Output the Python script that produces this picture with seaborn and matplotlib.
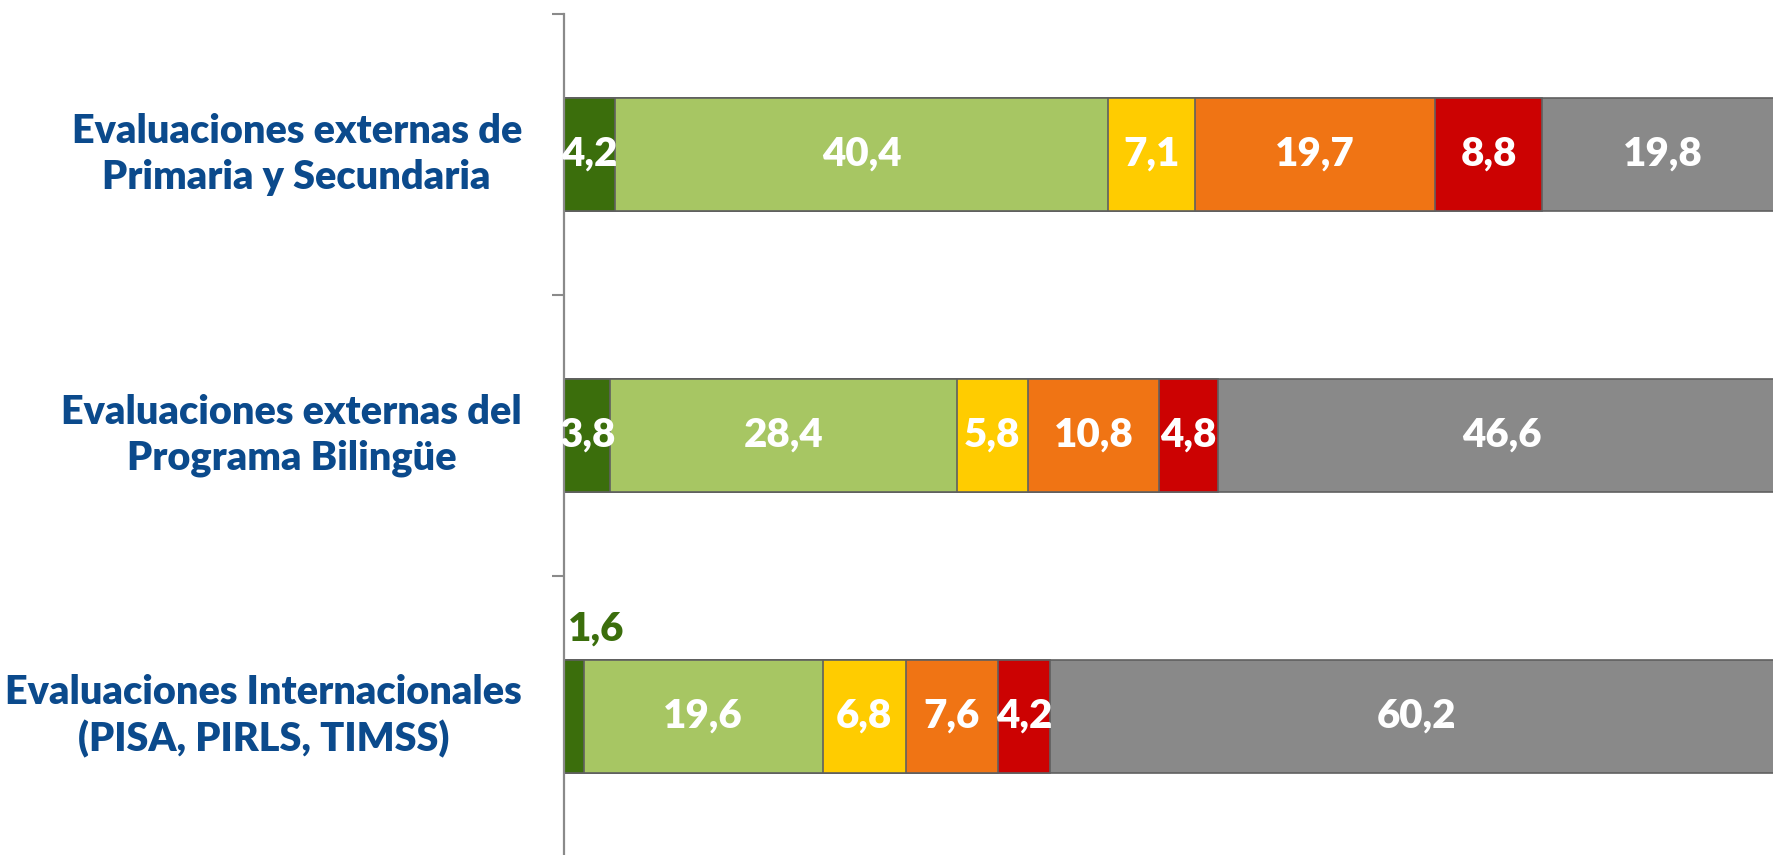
import matplotlib
matplotlib.use("Agg")
import matplotlib.pyplot as plt
import seaborn as sns
import numpy as np
import pandas as pd

# ---- data ----
categories = [
    "Evaluaciones externas de\nPrimaria y Secundaria",
    "Evaluaciones externas del\nPrograma Bilingüe",
    "Evaluaciones Internacionales\n(PISA, PIRLS, TIMSS)",
]
series_names = ["S1", "S2", "S3", "S4", "S5", "S6"]
s1 = [4.2, 3.8, 1.6]
s2 = [40.4, 28.4, 19.6]
s3 = [7.1, 5.8, 6.8]
s4 = [19.7, 10.8, 7.6]
s5 = [8.8, 4.8, 4.2]
s6 = [19.8, 46.6, 60.2]
colors = ["#3B6E0C", "#A7C663", "#FFCC00", "#F07414", "#CC0202", "#898989"]

series = [s1, s2, s3, s4, s5, s6]

sns.set_theme(style="white")
plt.rcParams["font.family"] = ["Lato", "DejaVu Sans"]

fig = plt.figure(figsize=(17.73, 8.55), dpi=100)
ax = fig.add_axes([564 / 1773, -2 / 855, 1220 / 1773, 843 / 855])

cum = np.cumsum(np.array(series), axis=0)  # shape (6, 3)

# draw from the full stack down so each segment shows
for i in range(len(series) - 1, -1, -1):
    df = pd.DataFrame({"cat": categories, "val": cum[i]})
    sns.barplot(data=df, y="cat", x="val", orient="h", color=colors[i],
                width=0.4, ax=ax, saturation=1,
                edgecolor="#606060", linewidth=1.2)

# value labels
for i, s in enumerate(series):
    for j, v in enumerate(s):
        left = cum[i][j] - v
        txt = f"{v:.1f}".replace(".", ",")
        if v < 3:
            ax.text(left + 0.3, j - 0.245, txt, ha="left", va="bottom",
                    color=colors[0], fontsize=29, fontweight="heavy")
        else:
            ax.text(left + v / 2, j, txt, ha="center", va="center",
                    color="white", fontsize=29, fontweight="heavy")

ax.set_xlim(0, 100)
ax.set_ylim(2.5, -0.5)
ax.set_xlabel("")
ax.set_ylabel("")
ax.set_xticks([])
ax.set_yticks([-0.5, 0.5, 1.5, 2.5])
ax.set_yticklabels([])
ax.tick_params(axis="y", left=True, length=9, width=1.5, color="#8a8a8a", direction="out")
for side in ["top", "right", "bottom"]:
    ax.spines[side].set_visible(False)
ax.spines["left"].set_color("#8a8a8a")
ax.spines["left"].set_linewidth(1.6)

# category labels
for j, c in enumerate(categories):
    ax.text(-3.45, j, c, ha="right", va="center", multialignment="center",
            color="#0B4A8C", fontsize=28.5, fontweight="heavy", linespacing=1.3,
            transform=ax.transData, clip_on=False)

fig.savefig("out.png", dpi=100)
